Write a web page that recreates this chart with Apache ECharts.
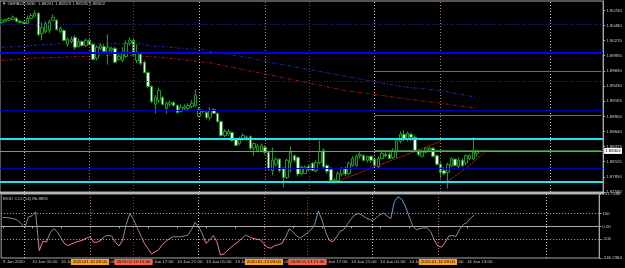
<!DOCTYPE html>
<html>
<head>
<meta charset="utf-8">
<script src="https://cdn.jsdelivr.net/npm/echarts@6/dist/echarts.min.js"></script>
<style>
html, body { margin: 0; padding: 0; background: #000; }
#main { width: 625px; height: 268px; }
</style>
</head>
<body>
<div id="main"></div>
<script>
// GBPAUD M30, 9 Jan 21:00 .. 14 Jan 14:00, [open, close, low, high]
const candles = [
  [1.9053,1.9057,1.9051,1.9058],[1.9055,1.9058,1.9053,1.9060],[1.9057,1.9060,1.9055,1.9062],[1.9058,1.9062,1.9057,1.9065],
  [1.9060,1.9055,1.9053,1.9062],[1.9055,1.9053,1.9051,1.9057],[1.9053,1.9051,1.9050,1.9055],[1.9051,1.9060,1.9050,1.9065],
  [1.9060,1.9065,1.9058,1.9069],[1.9064,1.9069,1.9062,1.9074],[1.9069,1.9032,1.9029,1.9070],[1.9034,1.9044,1.9022,1.9053],
  [1.9037,1.9051,1.9034,1.9055],[1.9039,1.9055,1.9034,1.9058],[1.9057,1.9062,1.9055,1.9067],[1.9057,1.9041,1.9039,1.9058],
  [1.9037,1.9043,1.9034,1.9046],[1.9039,1.9022,1.9020,1.9041],[1.9015,1.9024,1.9011,1.9027],[1.9020,1.9024,1.9017,1.9029],
  [1.9027,1.9010,1.9006,1.9031],[1.9011,1.9020,1.9010,1.9025],[1.9020,1.9013,1.9011,1.9022],[1.9013,1.9022,1.9011,1.9025],
  [1.9022,1.9015,1.9013,1.9025],[1.9015,1.8989,1.8987,1.9017],[1.8991,1.9010,1.8987,1.9013],[1.9008,1.9013,1.9005,1.9017],
  [1.9011,1.9003,1.8999,1.9015],[1.9001,1.9010,1.8980,1.9032],[1.9005,1.9008,1.8999,1.9011],[1.9008,1.8984,1.8982,1.9011],
  [1.8989,1.8994,1.8987,1.8999],[1.8987,1.8999,1.8984,1.9010],[1.8994,1.9017,1.8991,1.9022],[1.9017,1.9022,1.9013,1.9027],
  [1.9022,1.8998,1.8994,1.9025],[1.8987,1.8999,1.8982,1.9015],[1.8998,1.8982,1.8979,1.9001],[1.8984,1.8966,1.8965,1.8987],
  [1.8966,1.8942,1.8940,1.8968],[1.8942,1.8916,1.8913,1.8944],[1.8911,1.8923,1.8895,1.8927],[1.8918,1.8935,1.8913,1.8940],
  [1.8923,1.8911,1.8909,1.8925],[1.8904,1.8913,1.8895,1.8916],[1.8911,1.8914,1.8907,1.8918],[1.8914,1.8909,1.8907,1.8916],
  [1.8909,1.8897,1.8895,1.8911],[1.8899,1.8906,1.8897,1.8911],[1.8904,1.8907,1.8900,1.8911],[1.8904,1.8909,1.8900,1.8913],
  [1.8907,1.8913,1.8904,1.8918],[1.8909,1.8927,1.8907,1.8937],[1.8890,1.8902,1.8888,1.8907],[1.8900,1.8899,1.8895,1.8902],
  [1.8897,1.8888,1.8885,1.8899],[1.8888,1.8900,1.8883,1.8906],[1.8902,1.8895,1.8894,1.8904],[1.8895,1.8881,1.8880,1.8897],
  [1.8881,1.8857,1.8855,1.8883],[1.8857,1.8864,1.8854,1.8868],[1.8859,1.8864,1.8857,1.8868],[1.8862,1.8848,1.8847,1.8864],
  [1.8850,1.8840,1.8838,1.8852],[1.8843,1.8852,1.8840,1.8855],[1.8852,1.8857,1.8848,1.8861],[1.8854,1.8852,1.8848,1.8857],
  [1.8855,1.8835,1.8831,1.8857],[1.8835,1.8843,1.8822,1.8845],[1.8831,1.8838,1.8828,1.8843],[1.8831,1.8840,1.8829,1.8843],
  [1.8836,1.8828,1.8824,1.8840],[1.8828,1.8800,1.8796,1.8829],[1.8796,1.8814,1.8788,1.8836],[1.8807,1.8816,1.8803,1.8819],
  [1.8816,1.8796,1.8793,1.8817],[1.8800,1.8784,1.8767,1.8802],[1.8784,1.8814,1.8781,1.8817],[1.8810,1.8828,1.8793,1.8838],
  [1.8822,1.8814,1.8810,1.8824],[1.8819,1.8790,1.8786,1.8821],[1.8791,1.8802,1.8788,1.8805],[1.8791,1.8802,1.8790,1.8805],
  [1.8803,1.8798,1.8795,1.8807],[1.8809,1.8796,1.8795,1.8810],[1.8796,1.8810,1.8793,1.8814],[1.8810,1.8829,1.8807,1.8848],
  [1.8831,1.8803,1.8800,1.8835],[1.8805,1.8795,1.8791,1.8807],[1.8798,1.8779,1.8777,1.8802],[1.8779,1.8777,1.8774,1.8783],
  [1.8779,1.8791,1.8777,1.8795],[1.8790,1.8800,1.8786,1.8802],[1.8800,1.8790,1.8786,1.8803],[1.8791,1.8809,1.8788,1.8812],
  [1.8805,1.8817,1.8803,1.8821],[1.8805,1.8821,1.8803,1.8824],[1.8821,1.8824,1.8817,1.8828],[1.8822,1.8814,1.8812,1.8824],
  [1.8814,1.8821,1.8810,1.8822],[1.8821,1.8814,1.8810,1.8822],[1.8816,1.8805,1.8802,1.8819],[1.8803,1.8817,1.8800,1.8821],
  [1.8817,1.8826,1.8816,1.8829],[1.8824,1.8822,1.8819,1.8828],[1.8824,1.8817,1.8816,1.8828],[1.8819,1.8831,1.8816,1.8835],
  [1.8828,1.8848,1.8817,1.8850],[1.8847,1.8859,1.8843,1.8864],[1.8859,1.8850,1.8847,1.8866],[1.8850,1.8861,1.8847,1.8864],
  [1.8859,1.8854,1.8847,1.8862],[1.8854,1.8829,1.8828,1.8857],[1.8831,1.8824,1.8821,1.8833],[1.8821,1.8828,1.8819,1.8831],
  [1.8828,1.8835,1.8826,1.8836],[1.8831,1.8835,1.8829,1.8838],[1.8835,1.8821,1.8819,1.8836],[1.8822,1.8807,1.8805,1.8824],
  [1.8807,1.8793,1.8783,1.8810],[1.8796,1.8791,1.8788,1.8802],[1.8793,1.8807,1.8765,1.8810],[1.8805,1.8817,1.8802,1.8819],
  [1.8816,1.8805,1.8803,1.8817],[1.8803,1.8814,1.8798,1.8819],[1.8814,1.8805,1.8802,1.8817],[1.8809,1.8822,1.8805,1.8824],
  [1.8817,1.8822,1.8814,1.8824],[1.8816,1.8828,1.8814,1.8854],[1.88261,1.88302,1.88195,1.88329]
];

// MOD CCI(14), one value per candle
const cci = [
  69, 68, 64, 60, 47, 23, -12, 72, 82, 113, -189, -116, -122, -51, -18, -42, -91, -135, -149, -136,
  -124, -116, -108, -91, -81, -124, -124, -108, -79, -71, -75, -124, -153, -108, 15, 100, 56, -10, -71, -132,
  -173, -214, -198, -181, -140, -116, -94, -81, -81, -81, -75, -69, -26, 31, -2, -59, -132, -108, -71, -120,
  -222, -214, -185, -161, -137, -118, -91, -67, -83, -94, -100, -104, -136, -165, -169, -149, -143, -132, -83, -18,
  -42, -75, -91, -71, -51, -26, 15, 121, 51, -42, -108, -120, -83, -38, -26, 15, 56, 88, 100, 88,
  68, 56, 42, 68, 92, 102, 80, 60, 194, 231, 211, 158, 80, 7, -26, -18, -12, -12, -40, -108,
  -153, -161, -124, -75, -71, -79, -22, 15, 29, 64, 86.8891
];

// moving averages read at a few bars: [bar index, price]
const maBlue = [[0, 1.9010], [5, 1.9011], [10, 1.9014], [16, 1.9016], [27, 1.9016], [38, 1.9016], [41, 1.9012],
  [46, 1.9010], [51, 1.9007], [54, 1.9007], [57, 1.9003], [60, 1.9000], [62, 1.8998], [65, 1.8994], [68, 1.8992],
  [70, 1.8988], [109, 1.8942], [120, 1.8935], [130, 1.8923]];
const maRed = [[0, 1.8987], [8, 1.8991], [18, 1.8993], [30, 1.8996], [38, 1.8995], [46, 1.8991], [54, 1.8985],
  [57, 1.8983], [94, 1.8935], [111, 1.8920], [120, 1.8913], [130, 1.8904]];

// trend lines: [bar index, price]
const trendA = [[91, 1.87756], [120, 1.88467]];
const trendB = [[122, 1.87773], [128, 1.88052], [133, 1.88329]];

// horizontal levels
const blueDotted = [1.9050, 1.8951];
const blueThick = [1.9001];
const blueThin = [1.8900, 1.8800];
const cyanLevels = [1.8852, 1.8777];
const tealLevels = [1.8968, 1.8892];
const greenLevels = [1.8832];
const bid = 1.88302;

// vertical lines (bar times)
const daySeps = ['2020.01.10 00:00', '2020.01.13 00:00', '2020.01.14 00:00', '2020.01.15 00:00'];
const orangeSeps = ['2020.01.10 09:00', '2020.01.13 09:00', '2020.01.14 09:00'];
const redSeps = ['2020.01.10 15:00', '2020.01.13 15:00'];
const levelsFrom = '2020.01.14 00:00';

// axis labels
const priceTicks = [1.87590, 1.87850, 1.88115, 1.88375, 1.88640, 1.88900, 1.89165, 1.89430, 1.89690, 1.89955, 1.90215, 1.90480, 1.90740];
const cciTicks = [-246.2384, -100, 0, 100, 251.7488];
const timeTicks = ['9 Jan 2020', '10 Jan 01:00', '10 Jan 05:00', '10 Jan 09:00', '10 Jan 13:00', '10 Jan 17:00',
  '10 Jan 21:00', '13 Jan 01:00', '13 Jan 05:00', '13 Jan 09:00', '13 Jan 13:00', '13 Jan 17:00', '13 Jan 21:00',
  '14 Jan 01:00', '14 Jan 05:00', '14 Jan 09:00', '14 Jan 13:00'];

// 30 minute bar times, weekend skipped
const slots = [];
let t = Date.UTC(2020, 0, 9, 21, 0);
while (slots.length < 165) {
  const d = new Date(t);
  const wd = d.getUTCDay();
  if (wd !== 0 && wd !== 6) {
    const p = (n) => String(n).padStart(2, '0');
    slots.push(d.getUTCFullYear() + '.' + p(d.getUTCMonth() + 1) + '.' + p(d.getUTCDate()) + ' ' + p(d.getUTCHours()) + ':' + p(d.getUTCMinutes()));
  }
  t += 30 * 60000;
}

const font = 'Liberation Sans';
const fs = 4.4;
const txt = '#c8c8c8';
const green = '#12a012';

function vLines(withLabels) {
  const out = [];
  daySeps.forEach((s) => out.push({ xAxis: s, lineStyle: { color: '#c4c4c4', type: [1, 2] } }));
  orangeSeps.forEach((s) => out.push({
    xAxis: s, name: s, lineStyle: { color: '#c8741c', type: [1, 2] },
    label: { show: withLabels, position: 'start', formatter: '{b}', backgroundColor: '#ffa21a', color: '#000',
      fontSize: fs, fontFamily: font, padding: [1, 2], distance: 1 }
  }));
  redSeps.forEach((s) => out.push({
    xAxis: s, name: s, lineStyle: { color: '#8c3a22', type: [1, 2] },
    label: { show: withLabels, position: 'start', formatter: '{b}', backgroundColor: '#ff6446', color: '#000',
      fontSize: fs, fontFamily: font, padding: [1, 2], distance: 1 }
  }));
  return out;
}

// full width levels, one markLine series each
function levelSeries(name, values, lineStyle) {
  return {
    name: name, type: 'line', xAxisIndex: 0, yAxisIndex: 0, data: [], z: 1,
    markLine: { silent: true, precision: 6, symbol: ['none', 'none'], label: { show: false }, lineStyle: lineStyle,
      data: values.map((v) => ({ yAxis: v })) }
  };
}

// levels drawn from a given bar to the right edge
function partialSeries(name, values, lineStyle) {
  return {
    name: name, type: 'line', xAxisIndex: 0, yAxisIndex: 0, data: [], z: 1,
    markLine: { silent: true, precision: 6, symbol: ['none', 'none'], label: { show: false }, lineStyle: lineStyle,
      data: values.map((v) => [{ coord: [levelsFrom, v] }, { coord: [slots[slots.length - 1], v] }]) }
  };
}

const chart = echarts.init(document.getElementById('main'));
chart.setOption({
  backgroundColor: '#000',
  animation: false,
  textStyle: { fontFamily: font },
  title: [
    { text: '\u25BC GBPAUD,M30  1.88261 1.88329 1.88195 1.88302', left: 2, top: 2, padding: 0,
      textStyle: { fontSize: fs, color: txt, fontWeight: 'normal', fontFamily: font } },
    { text: 'MOD CCI (14) 86.8891', left: 3, top: 197, padding: 0,
      textStyle: { fontSize: fs, color: txt, fontWeight: 'normal', fontFamily: font } }
  ],
  grid: [
    { left: 0, right: 21, top: 1, height: 191, show: true, borderColor: '#a8a8a8', borderWidth: 1 },
    { left: 0, right: 21, top: 194, height: 64, show: true, borderColor: '#a8a8a8', borderWidth: 1 }
  ],
  graphic: [
    { type: 'rect', shape: { x: 0, y: 192, width: 604, height: 2 }, style: { fill: '#b4b4b4' }, silent: true }
  ],
  xAxis: [
    { type: 'category', gridIndex: 0, data: slots, boundaryGap: true,
      axisLine: { show: false }, axisTick: { show: false }, axisLabel: { show: false }, splitLine: { show: false } },
    { type: 'category', gridIndex: 1, data: slots, boundaryGap: true,
      axisLine: { show: true, lineStyle: { color: '#a8a8a8' } },
      axisTick: { show: true, alignWithLabel: true, length: 2, lineStyle: { color: '#a8a8a8' },
        interval: (i) => i % 8 === 0 && i / 8 < timeTicks.length },
      axisLabel: { interval: (i) => i % 8 === 0 && i / 8 < timeTicks.length,
        formatter: (v, i) => timeTicks[i / 8] || '', align: 'left', margin: 2,
        fontSize: fs, color: txt, fontFamily: font },
      splitLine: { show: false } }
  ],
  yAxis: [
    { type: 'value', gridIndex: 0, position: 'right', min: 1.87590, max: 1.90902, scale: true,
      axisLine: { show: true, lineStyle: { color: '#a8a8a8' } },
      axisTick: { show: true, length: 2, customValues: priceTicks, lineStyle: { color: '#a8a8a8' } },
      axisLabel: { customValues: priceTicks, formatter: (v) => v.toFixed(5), margin: 3,
        fontSize: fs, color: txt, fontFamily: font },
      splitLine: { show: false } },
    { type: 'value', gridIndex: 1, position: 'right', min: cciTicks[0], max: cciTicks[cciTicks.length - 1],
      axisLine: { show: true, lineStyle: { color: '#a8a8a8' } },
      axisTick: { show: true, length: 2, customValues: cciTicks, lineStyle: { color: '#a8a8a8' } },
      axisLabel: { customValues: cciTicks,
        formatter: (v) => (v === 0 ? '0.00' : Number.isInteger(v) ? String(v) : v.toFixed(4)),
        margin: 3, fontSize: fs, color: txt, fontFamily: font },
      splitLine: { show: false } }
  ],
  visualMap: {
    show: false, type: 'piecewise', seriesIndex: 5, dimension: 1,
    pieces: [
      { lt: -90, color: '#ff6fa2' },
      { gte: -90, lte: 100, color: '#8a8a8a' },
      { gt: 100, color: '#38a8ff' }
    ]
  },
  series: [
    {
      name: 'GBPAUD', type: 'candlestick', xAxisIndex: 0, yAxisIndex: 0, data: candles, barWidth: 3, z: 3,
      itemStyle: { color: '#000', color0: '#fff', borderColor: green, borderColor0: green, borderWidth: 1 },
      markLine: { silent: true, symbol: ['none', 'none'], label: { show: false }, data: vLines(false) }
    },
    { name: 'MA slow', type: 'line', xAxisIndex: 0, yAxisIndex: 0, data: maBlue, showSymbol: false,
      lineStyle: { color: '#2424c8', width: 1, type: [3, 2, 1, 2] }, z: 3 },
    { name: 'MA fast', type: 'line', xAxisIndex: 0, yAxisIndex: 0, data: maRed, showSymbol: false,
      lineStyle: { color: '#b41010', width: 1, type: [3, 2, 1, 2] }, z: 3 },
    { name: 'Trend 1', type: 'line', xAxisIndex: 0, yAxisIndex: 0, data: trendA, symbol: 'rect', symbolSize: 3,
      itemStyle: { color: '#ffe0e0', borderColor: '#e02020', borderWidth: 0.5 },
      lineStyle: { color: '#d01818', width: 1, type: [2, 1] }, z: 4 },
    { name: 'Trend 2', type: 'line', xAxisIndex: 0, yAxisIndex: 0, data: trendB, symbol: 'rect', symbolSize: 3,
      itemStyle: { color: '#ffe0e0', borderColor: '#e02020', borderWidth: 0.5 },
      lineStyle: { color: '#d01818', width: 1, type: [2, 1] }, z: 4 },
    {
      name: 'MOD CCI', type: 'line', xAxisIndex: 1, yAxisIndex: 1, data: cci, showSymbol: false,
      lineStyle: { width: 1 },
      markLine: { silent: true, precision: 6, symbol: ['none', 'none'], label: { show: false },
        data: vLines(true).concat(cciTicks.slice(1, 4).map((v) => ({ yAxis: v,
          lineStyle: { color: '#b0b0b0', type: [1, 2], width: 1 } }))) }
    },
    levelSeries('blue dotted', blueDotted, { color: '#1a1ad0', type: [1, 2], width: 1 }),
    levelSeries('blue thick', blueThick, { color: '#0000ff', type: 'solid', width: 2 }),
    levelSeries('blue thin', blueThin, { color: '#0000b8', type: 'solid', width: 1 }),
    levelSeries('cyan', cyanLevels, { color: '#1ee4f0', type: 'solid', width: 2 }),
    partialSeries('teal', tealLevels, { color: '#1d88a8', type: 'solid', width: 1 }),
    partialSeries('green', greenLevels, { color: '#2a7a2a', type: 'solid', width: 1 }),
    {
      name: 'Bid', type: 'line', xAxisIndex: 0, yAxisIndex: 0, data: [], z: 2,
      markLine: { silent: true, precision: 6, symbol: ['none', 'none'], lineStyle: { color: '#8c8c8c', type: 'solid', width: 1 },
        label: { show: true, position: 'end', formatter: bid.toFixed(5), backgroundColor: '#fff', color: '#000',
          fontSize: fs, fontFamily: font, padding: [1, 1], distance: 1 },
        data: [{ yAxis: bid }] }
    }
  ]
});
</script>
</body>
</html>
